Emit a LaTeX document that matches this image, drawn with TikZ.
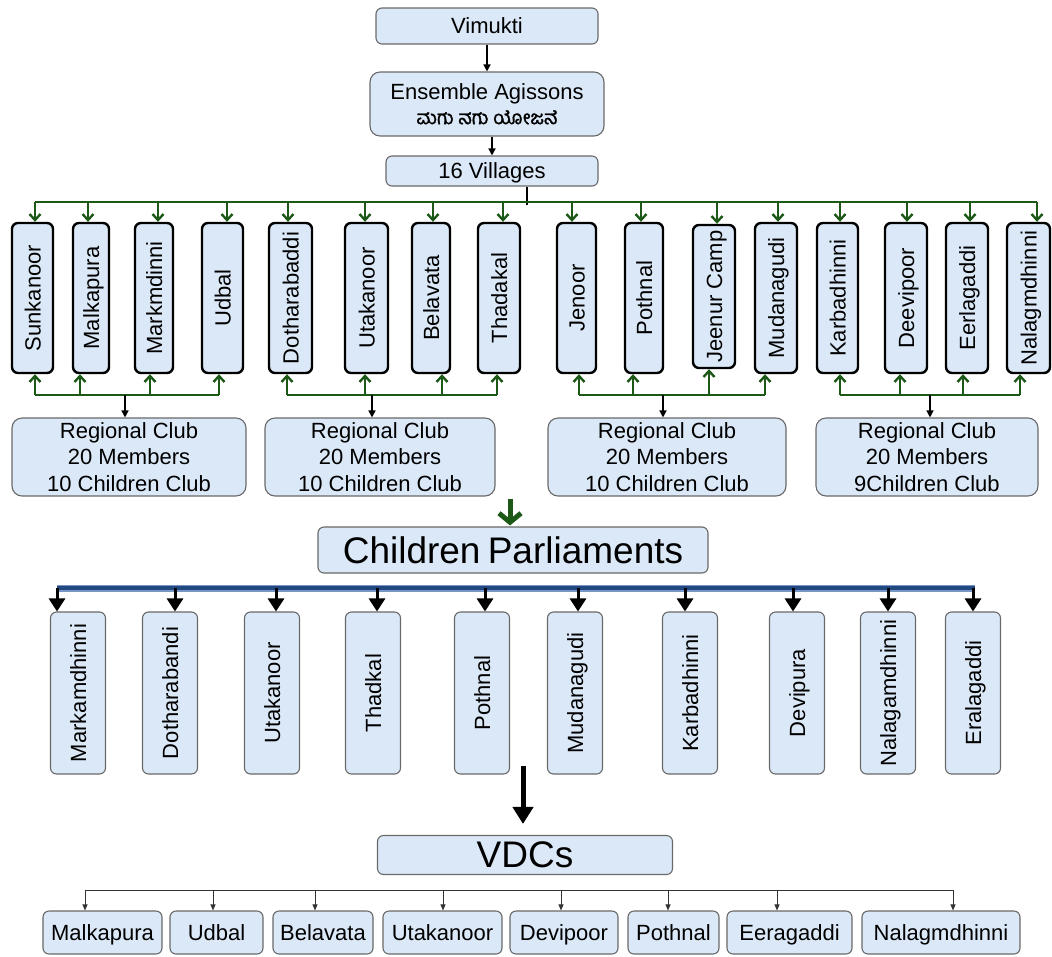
\documentclass[tikz,border=0pt]{standalone}
\usepackage{fontspec}
\setmainfont{Liberation Sans}
\newfontfamily\kannadafont[Script=Kannada,FakeBold=1.5]{Hind Mysuru}
\usetikzlibrary{arrows.meta,calc}
\definecolor{boxfill}{RGB}{219,232,247}
\definecolor{grayline}{RGB}{105,105,105}
\definecolor{dgreen}{RGB}{28,88,22}
\definecolor{busblue}{RGB}{34,72,130}
\definecolor{busedge}{RGB}{120,150,195}
\newcommand{\vtxt}[1]{\rotatebox{90}{\raisebox{0pt}[16pt][0pt]{#1}}}
\begin{document}
\begin{tikzpicture}[x=1pt,y=-1pt,
  every node/.style={font=\fontsize{22}{26.5}\selectfont},
  topbox/.style={draw=grayline,line width=1.1pt,fill=boxfill,rounded corners=6pt,inner sep=0pt},
  vbox/.style={draw=black,line width=2.4pt,fill=boxfill,rounded corners=6pt,inner sep=0pt,minimum height=150pt},
  clubbox/.style={draw=grayline,line width=1.1pt,fill=boxfill,rounded corners=10pt,inner sep=0pt,align=center,minimum height=78pt},
  pbox/.style={draw=grayline,line width=1.1pt,fill=boxfill,rounded corners=6pt,inner sep=0pt,minimum width=55pt,minimum height=162pt},
  dbox/.style={draw=grayline,line width=1.1pt,fill=boxfill,rounded corners=6pt,inner sep=0pt,minimum height=43pt,text height=16pt,text depth=1pt},
  bigbox/.style={draw=grayline,line width=1.1pt,fill=boxfill,rounded corners=6pt,inner sep=0pt,font=\fontsize{37}{40}\selectfont},
  blkarrow/.style={draw=black,line width=1.5pt,-{Triangle[length=7pt,width=7pt]}},
  gline/.style={draw=dgreen,line width=2.8pt},
  garrow/.style={draw=dgreen,line width=2.6pt,-{Straight Barb[length=6pt,width=11pt,line width=2.4pt]}},
  parrow/.style={draw=black,line width=3pt,-{Triangle[length=13pt,width=16pt]}},
  thinarrow/.style={draw=black!80,line width=0.9pt,-{Triangle[length=6pt,width=5pt]}},
]
\useasboundingbox (0,0) rectangle (1052,956);

% ---- top
\node[topbox,minimum width=222pt,minimum height=36pt,text height=16pt,text depth=1pt] (vim) at (487,26) {Vimukti};
\node[topbox,minimum width=234pt,minimum height=64pt,rounded corners=10pt,align=center] (ens) at (487,104)
  {Ensemble Agissons\\[-2pt]{\kannadafont\fontsize{19}{21}\selectfont ಮಗು ನಗು ಯೋಜನೆ}};
\node[topbox,minimum width=212pt,minimum height=30pt,text height=16pt,text depth=1pt] (vil) at (492,171) {16 Villages};
\draw[blkarrow] (vim) -- (ens);
\draw[blkarrow] (vil.north |- ens.south) -- (vil.north);

% ---- villages
\foreach \n/\x/\w/\t in {v1/32.5/41/Sunkanoor, v2/91/36/Malkapura, v3/154/38/Markmdinni, v4/222.5/41/Udbal,
  v5/290.5/43/Dotharabaddi, v6/366.5/43/Utakanoor, v7/431/38/Belavata, v8/499/42/Thadakal,
  v9/576.5/39/Jenoor, v10/644/38/Pothnal, v12/776/42/Mudanagudi,
  v13/837.5/41/Karbadhinni, v14/906/42/Deevipoor, v15/967/42/Eerlagaddi, v16/1028.5/43/Nalagmdhinni}
  {\node[vbox,minimum width=\w pt] (\n) at (\x,298) {\vtxt{\t}};}
\node[vbox,minimum width=42pt,minimum height=143pt] (v11) at (714,296.5) {\vtxt{Jeenur Camp}};

% top green bus
\coordinate (hub) at (527,202);
\foreach \i/\x in {1/35,2/88,3/158,4/227,5/288,6/365,7/433,8/503,9/572,10/641,11/717,12/778,13/840,14/907,15/970,16/1037}
  {\coordinate (t\i) at (\x,202);}
\draw[black,line width=1.5pt] (hub |- vil.south) -- ([yshift=-3pt]hub);
\draw[gline] (t1) -- (t16);
\foreach \i in {1,...,16} {\draw[garrow] (t\i) -- (t\i |- v\i.north);}

% bottom green buses and regional clubs
\foreach \i/\x in {1/35,2/80,3/150,4/219,5/287,6/365,7/442,8/497,9/579,10/633,11/709,12/765,13/840,14/900,15/963,16/1020}
  {\coordinate (r\i) at (\x,395);}
\draw[gline] (r1) -- (r4);
\draw[gline] (r5) -- (r8);
\draw[gline] (r9) -- (r12);
\draw[gline] (r13) -- (r16);
\foreach \i in {1,...,16} {\draw[garrow] (r\i) -- (r\i |- v\i.south);}

\node[clubbox,minimum width=234pt] (c1) at (129,457) {Regional Club\\20 Members\\10 Children Club};
\node[clubbox,minimum width=230pt] (c2) at (380,457) {Regional Club\\20 Members\\10 Children Club};
\node[clubbox,minimum width=238pt] (c3) at (667,457) {Regional Club\\20 Members\\10 Children Club};
\node[clubbox,minimum width=222pt] (c4) at (927,457) {Regional Club\\20 Members\\9Children Club};
\foreach \i/\x in {1/125,2/372,3/663,4/930} {
  \coordinate (d\i) at (\x,395);
  \draw[blkarrow] (d\i) -- (d\i |- c\i.north);}

% ---- children parliaments
\node[bigbox,minimum width=390pt,minimum height=46pt] (cp) at (513,550) {Children\hspace{-3pt} Parliaments};
\coordinate (gtop) at (510,499);
\draw[draw=dgreen,line width=5pt,shorten >=1pt,-{Straight Barb[length=9pt,width=22pt,line width=5pt]}] (gtop) -- (gtop |- cp.north);

\foreach \i/\x in {1/57,2/175,3/276,4/377,5/485,6/578,7/685,8/793,9/888,10/973}
  {\coordinate (p\i) at (\x,588);}
\draw[busedge,line width=7pt] (p1) -- ([xshift=2pt]p10);
\draw[busblue,line width=4.5pt] (p1) -- ([xshift=2pt]p10);

\foreach \n/\x/\t in {m1/78/Markamdhinni, m2/170/Dotharabandi, m3/272/Utakanoor, m4/373/Thadkal, m5/482/Pothnal,
  m6/575/Mudanagudi, m7/690/Karbadhinni, m8/797/Devipura, m9/888/Nalagamdhinni, m10/973/Eralagaddi}
  {\node[pbox] (\n) at (\x,693) {\vtxt{\t}};}
\foreach \i in {1,...,10} {\draw[parrow] (p\i) -- (p\i |- m\i.north);}

% ---- VDCs
\node[bigbox,minimum width=295pt,minimum height=39pt] (vdc) at (525,855) {VDCs};
\coordinate (ktop) at (523,766);
\draw[draw=black,line width=5pt,shorten >=11pt,-{Triangle[length=17pt,width=20pt]}] (ktop) -- (ktop |- vdc.north);

\foreach \i/\x in {1/85,2/213,3/315,4/443,5/561,6/668,7/777,8/953}
  {\coordinate (q\i) at (\x,890);}
\draw[black!80,line width=0.9pt] (q1) -- (q8);
\foreach \n/\x/\w/\t in {n1/102.5/119/Malkapura, n2/216.5/93/Udbal, n3/323/100/Belavata, n4/442.5/119/Utakanoor,
  n5/564/108/Devipoor, n6/673.5/91/Pothnal, n7/789.5/125/Eeragaddi, n8/941/158/Nalagmdhinni}
  {\node[dbox,minimum width=\w pt] (\n) at (\x,932.5) {\t};}
\foreach \i in {1,...,8} {\draw[thinarrow] (q\i) -- (q\i |- n\i.north);}
\end{tikzpicture}
\end{document}
